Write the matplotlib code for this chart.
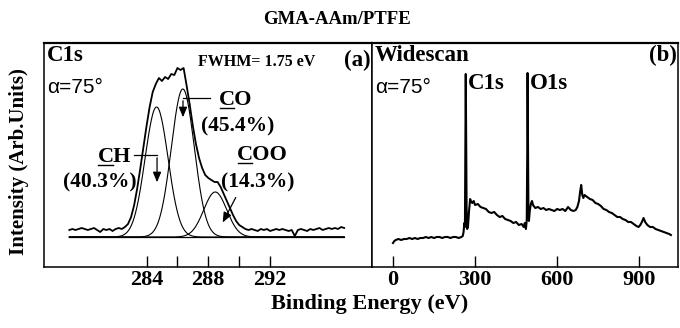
import matplotlib
matplotlib.use('Agg')
import matplotlib.pyplot as plt
import numpy as np

# C1s high resolution scan (binding energy in eV, intensity arb. units)
c1s_energy = [279.0, 279.2, 279.4, 279.6, 279.8, 280.0, 280.2, 280.4, 280.6, 280.8,
              281.0, 281.2, 281.4, 281.6, 281.8, 282.0, 282.2, 282.4, 282.6, 282.8,
              283.0, 283.2, 283.4, 283.6, 283.8, 284.0, 284.2, 284.4, 284.6, 284.8,
              285.0, 285.2, 285.4, 285.6, 285.8, 286.0, 286.2, 286.4, 286.6, 286.8,
              287.0, 287.2, 287.4, 287.6, 287.8, 288.0, 288.2, 288.4, 288.6, 288.8,
              289.0, 289.2, 289.4, 289.6, 289.8, 290.0, 290.2, 290.4, 290.6, 290.8,
              291.0, 291.2, 291.4, 291.6, 291.8, 292.0, 292.2, 292.4, 292.6, 292.8,
              293.0, 293.2, 293.4, 293.6, 293.8, 294.0, 294.2, 294.4, 294.6, 294.8,
              295.0, 295.2, 295.4, 295.6, 295.8, 296.0, 296.2, 296.4, 296.6, 296.8]
c1s_counts = [37, 38, 37, 38, 39, 38, 37, 38, 39, 37,
              35, 38, 37, 38, 36, 38, 39, 38, 40, 43,
              50, 62, 79, 99, 120, 141, 160, 175, 183, 189,
              186, 190, 188, 193, 192, 199, 197, 199, 181, 162,
              141, 123, 109, 99, 92, 89, 87, 85, 85, 80,
              73, 66, 59, 52, 46, 42, 40, 38, 37, 38,
              37, 36, 38, 37, 38, 36, 37, 38, 37, 38,
              37, 36, 37, 31, 37, 38, 37, 36, 38, 37,
              38, 39, 37, 38, 39, 38, 39, 38, 40, 39]

# fitted components: CH, CO, COO
peak_names = ['CH', 'CO', 'COO']
peak_pct = ['(40.3%)', '(45.4%)', '(14.3%)']
peak_center = [284.65, 286.35, 288.45]
peak_height = [130, 148, 45]
fit_baseline = 30
fwhm = 1.75

# widescan
wide_energy = [0, 5, 10, 20, 30, 40, 50, 60, 70, 80, 90, 100, 110, 120, 130, 140, 150,
               160, 170, 180, 190, 200, 210, 220, 230, 240, 250, 255, 258, 261, 263,
               265, 266, 267, 269, 271, 274, 278, 282, 286, 290, 295, 300, 310, 320,
               330, 340, 350, 360, 370, 380, 390, 400, 410, 420, 430, 440, 450, 460,
               470, 478, 482, 486, 489, 491, 492, 493, 495, 497, 500, 504, 508, 512,
               520, 530, 540, 550, 560, 570, 580, 590, 600, 610, 620, 630, 640, 650,
               660, 668, 674, 680, 684, 688, 692, 696, 700, 710, 720, 730, 740, 750,
               760, 770, 780, 790, 800, 810, 820, 830, 840, 850, 860, 870, 880, 890,
               898, 904, 910, 916, 922, 930, 940, 950, 960, 970, 980, 990, 1000, 1010,
               1016]
wide_counts = [24, 26, 27, 28, 27, 28, 28, 29, 28, 29, 28, 29, 29, 30, 29, 30, 29,
               30, 30, 29, 30, 30, 29, 30, 30, 29, 30, 31, 35, 44, 40,
               130, 193, 150, 60, 38, 40, 56, 68, 65, 64, 66, 62, 63, 60,
               59, 58, 55, 54, 55, 52, 50, 51, 48, 47, 46, 44, 45, 42,
               43, 40, 44, 38, 47, 120, 194, 150, 60, 46, 56, 63, 66, 62,
               59, 60, 58, 59, 57, 58, 57, 56, 58, 57, 58, 56, 60, 57,
               56, 57, 60, 66, 75, 82, 72, 69, 72, 70, 68, 67, 64, 63,
               61, 58, 57, 55, 54, 52, 50, 50, 48, 47, 45, 45, 43, 41,
               40, 42, 45, 49, 45, 42, 40, 40, 38, 37, 36, 35, 34, 33,
               32]

serif = 'Liberation Serif'
W, H = 680, 328
big = 16

fig = plt.figure(figsize=(6.8, 3.28), dpi=100)
ax1 = fig.add_axes([44 / W, 1 - 267 / H, (372 - 44) / W, (267 - 43) / H])
ax2 = fig.add_axes([372 / W, 1 - 267 / H, (678 - 372) / W, (267 - 43) / H])

# --- (a) C1s ---
ax1.plot(c1s_energy, c1s_counts, color='black', lw=1.3)
e = np.linspace(279.0, 296.8, 400)
sig = fwhm / 2.3548
for c, h in zip(peak_center, peak_height):
    ax1.plot(e, fit_baseline + h * np.exp(-(e - c) ** 2 / (2 * sig ** 2)), color='black', lw=0.8)
ax1.plot([c1s_energy[0], c1s_energy[-1]], [fit_baseline, fit_baseline], color='black', lw=0.9)

ax1.set_xlim(277.36, 298.6)
ax1.set_ylim(0, 224)
ax1.set_xticks([284, 288, 292])
ax1.set_xticks([286, 290], minor=True)

# --- (b) widescan ---
ax2.plot(wide_energy, wide_counts, color='black', lw=1.5)
ax2.set_xlim(-76.8, 1042)
ax2.set_ylim(0, 224)
ax2.set_xticks([0, 300, 600, 900])

for ax in (ax1, ax2):
    ax.set_yticks([])
    ax.tick_params(axis='x', which='both', direction='in', length=8, width=1,
                   top=False, pad=2, labelsize=big)
    for lab in ax.get_xticklabels():
        lab.set_fontfamily(serif)
        lab.set_fontweight('bold')
    for s in ax.spines.values():
        s.set_linewidth(1.1)
    ax.spines['top'].set_linewidth(1.6)

bold = dict(family=serif, fontweight='bold')

# panel texts
ax1.text(0.01, 0.99, 'C1s', transform=ax1.transAxes, ha='left', va='top', fontsize=16.5, **bold)
ax1.text(0.01, 0.80, '\u03b1=75\u00b0', transform=ax1.transAxes, ha='left', va='center',
         fontsize=15, family='Liberation Sans')
ax1.text(0.47, 0.915, 'FWHM= 1.75 eV', transform=ax1.transAxes, ha='left', va='center',
         fontsize=11.5, **bold)
ax1.text(0.995, 0.92, '(a)', transform=ax1.transAxes, ha='right', va='center', fontsize=16.5, **bold)
ax2.text(0.01, 0.99, 'Widescan', transform=ax2.transAxes, ha='left', va='top', fontsize=16.5, **bold)
ax2.text(0.995, 0.99, '(b)', transform=ax2.transAxes, ha='right', va='top', fontsize=16.5, **bold)
ax2.text(0.01, 0.80, '\u03b1=75\u00b0', transform=ax2.transAxes, ha='left', va='center',
         fontsize=15, family='Liberation Sans')
ax2.text(275, 183, 'C1s', ha='left', va='center', fontsize=16.5, **bold)
ax2.text(499, 183, 'O1s', ha='left', va='center', fontsize=16.5, **bold)

# peak labels
name_pos = [(281.9, 110), (289.8, 167), (291.5, 112)]
pct_pos = [(281.0, 85), (289.9, 141), (291.2, 85)]
name_texts = []
for nm, pc, npos, ppos in zip(peak_names, peak_pct, name_pos, pct_pos):
    t = ax1.text(npos[0], npos[1], nm, ha='center', va='center', fontsize=16, **bold)
    name_texts.append(t)
    ax1.text(ppos[0], ppos[1], pc, ha='center', va='center', fontsize=15.5, **bold)

arr = dict(arrowstyle='-|>,head_length=0.6,head_width=0.25', color='black', lw=0.9)
# CH
ax1.plot([283.2, 284.68], [112, 112], color='black', lw=0.9)
ax1.annotate('', xy=(284.68, 82), xytext=(284.68, 112), arrowprops=arr)
# CO
ax1.plot([288.1, 286.36], [169, 169], color='black', lw=0.9)
ax1.annotate('', xy=(286.36, 147), xytext=(286.36, 169), arrowprops=arr)
# COO
ax1.annotate('', xy=(288.85, 42), xytext=(289.86, 72), arrowprops=arr)

# axis labels
fig.text(0.495, 1 - 19 / H, 'GMA-AAm/PTFE', ha='center', va='center', fontsize=13.5, **bold)
fig.text(370 / W, 1 - 304 / H, 'Binding Energy (eV)', ha='center', va='center', fontsize=16, **bold)
fig.text(19 / W, 1 - 162 / H, 'Intensity (Arb.Units)', ha='center', va='center', rotation=90,
         fontsize=15, **bold)

# underline the C in each peak label
fig.canvas.draw()
r = fig.canvas.get_renderer()
for t in name_texts:
    bb = t.get_window_extent(r)
    tmp = fig.text(0, 0, 'C', fontsize=16, **bold)
    cw = tmp.get_window_extent(r).width
    tmp.remove()
    x0, x1 = bb.x0 + 1, bb.x0 + cw - 1
    yb = bb.y0 + 2
    fig.add_artist(plt.Line2D([x0 / W, x1 / W], [yb / H, yb / H], color='black', lw=1.0))

fig.savefig('out.png', dpi=100)
